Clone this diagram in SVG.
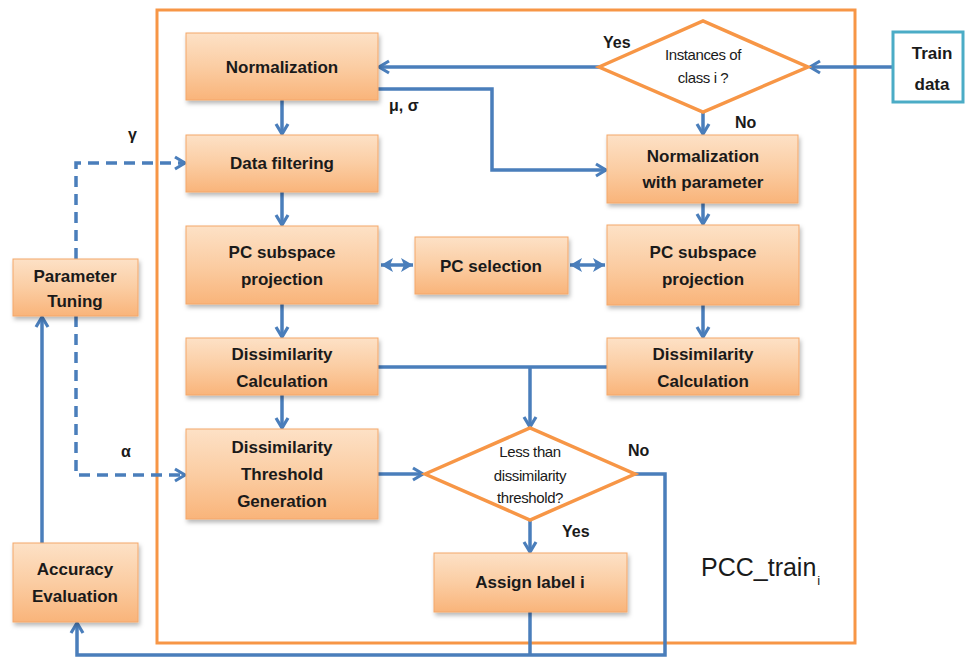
<svg xmlns="http://www.w3.org/2000/svg" width="965" height="657" viewBox="0 0 965 657">
  <defs>
    <linearGradient id="boxFill" x1="0" y1="0" x2="0" y2="1">
      <stop offset="0" stop-color="#FDE1C6"/>
      <stop offset="0.5" stop-color="#FBCDA3"/>
      <stop offset="1" stop-color="#F9B47A"/>
    </linearGradient>
    <filter id="shadow" x="-10%" y="-10%" width="125%" height="135%">
      <feDropShadow dx="1.5" dy="3" stdDeviation="2" flood-color="#000" flood-opacity="0.28"/>
    </filter>
    <marker id="open" markerUnits="userSpaceOnUse" markerWidth="16" markerHeight="16" viewBox="0 0 16 16" refX="13" refY="8" orient="auto">
      <path d="M3,2 L13,8 L3,14" fill="none" stroke="#4A7EBB" stroke-width="3.2" stroke-linejoin="miter"/>
    </marker>
    <marker id="solid" markerUnits="userSpaceOnUse" markerWidth="14" markerHeight="14" viewBox="0 0 14 14" refX="12" refY="7" orient="auto-start-reverse">
      <path d="M0,0 L12,7 L0,14 L3,7 Z" fill="#4A7EBB"/>
    </marker>
    <style>
      .box { fill: url(#boxFill); stroke: #F4A76A; stroke-width: 1; filter: url(#shadow); }
      .lbl { font-family: "Liberation Sans", Arial, sans-serif; font-weight: bold; font-size: 17px; fill: #1A1A1A; text-anchor: middle; }
      .dec { fill: #FFFFFF; stroke: #F79646; stroke-width: 3.5; stroke-linejoin: miter; }
      .dtx { font-family: "Liberation Sans", Arial, sans-serif; font-size: 15px; fill: #1A1A1A; text-anchor: middle; letter-spacing: -0.4px; }
      .tag { font-family: "Liberation Sans", Arial, sans-serif; font-weight: bold; font-size: 16px; fill: #1A1A1A; }
      .wire { fill: none; stroke: #4A7EBB; stroke-width: 3.5; }
      .dash { stroke-dasharray: 11 7; }
    </style>
  </defs>

  <rect width="965" height="657" fill="#FFFFFF"/>

  <!-- PCC_train_i frame -->
  <g id="frame">
    <rect x="157" y="10" width="698" height="633" fill="none" stroke="#F79646" stroke-width="3"/>
    <text x="701" y="576" font-family="Liberation Sans, Arial, sans-serif" font-size="25" fill="#1A1A1A">PCC_train<tspan dx="1" dy="9" font-size="13">i</tspan></text>
  </g>

  <!-- connectors -->
  <g id="connectors">
    <path class="wire" d="M893,67 L810,67" marker-end="url(#open)"/>
    <path class="wire" d="M599,67 L379,67" marker-end="url(#open)"/>
    <path class="wire" d="M703,112 L703,134" marker-end="url(#open)"/>
    <path class="wire" d="M282,100 L282,134" marker-end="url(#open)"/>
    <path class="wire" d="M378,89 L492,89 L492,170 L606,170" marker-end="url(#open)"/>
    <path class="wire" d="M282,192 L282,225" marker-end="url(#open)"/>
    <path class="wire" d="M703,203 L703,224" marker-end="url(#open)"/>
    <path class="wire" d="M381,265 L413,265" marker-start="url(#solid)" marker-end="url(#solid)"/>
    <path class="wire" d="M570,265 L605,265" marker-start="url(#solid)" marker-end="url(#solid)"/>
    <path class="wire" d="M282,304 L282,337" marker-end="url(#open)"/>
    <path class="wire" d="M703,305 L703,337" marker-end="url(#open)"/>
    <path class="wire" d="M378,367 L607,367"/>
    <path class="wire" d="M530,367 L530,427" marker-end="url(#open)"/>
    <path class="wire" d="M282,395 L282,428" marker-end="url(#open)"/>
    <path class="wire" d="M378,474 L423,474" marker-end="url(#open)"/>
    <path class="wire" d="M530,520 L530,552" marker-end="url(#open)"/>
    <path class="wire" d="M635,474 L665,474 L665,655 L77,655 L77,623" marker-end="url(#open)"/>
    <path class="wire" d="M530,612 L530,655"/>
    <path class="wire" d="M42,543 L42,317" marker-end="url(#open)"/>
    <path class="wire dash" d="M76,259 L76,163 L185,163" marker-end="url(#open)"/>
    <path class="wire dash" d="M76,316 L76,475 L185,475" marker-end="url(#open)"/>
    <text class="tag" x="603" y="48">Yes</text>
    <text class="tag" x="735" y="128">No</text>
    <text class="tag" x="389" y="111" font-size="15">μ, σ</text>
    <text class="tag" x="128" y="140">γ</text>
    <text class="tag" x="121" y="457">α</text>
    <text class="tag" x="562" y="537">Yes</text>
    <text class="tag" x="628" y="456">No</text>
  </g>

  <g id="train-data">
    <rect x="893" y="32" width="70" height="70" fill="#FFFFFF" stroke="#4BACC6" stroke-width="3"/>
    <text class="lbl" x="932" y="59" font-size="20">Train</text>
    <text class="lbl" x="932" y="90" font-size="20">data</text>
  </g>

  <g id="instances-decision">
    <polygon class="dec" points="599,67 703,21 808,67 703,112"/>
    <text class="dtx" x="703" y="60">Instances of</text>
    <text class="dtx" x="703" y="83">class i ?</text>
  </g>

  <g id="normalization">
    <rect class="box" x="186" y="33" width="192" height="67"/>
    <text class="lbl" x="282" y="73">Normalization</text>
  </g>

  <g id="data-filtering">
    <rect class="box" x="186" y="135" width="192" height="57"/>
    <text class="lbl" x="282" y="169">Data filtering</text>
  </g>

  <g id="pc-projection-left">
    <rect class="box" x="186" y="226" width="192" height="78"/>
    <text class="lbl" x="282" y="258">PC subspace</text>
    <text class="lbl" x="282" y="285">projection</text>
  </g>

  <g id="dissimilarity-left">
    <rect class="box" x="186" y="338" width="192" height="57"/>
    <text class="lbl" x="282" y="360">Dissimilarity</text>
    <text class="lbl" x="282" y="387">Calculation</text>
  </g>

  <g id="threshold-generation">
    <rect class="box" x="186" y="429" width="192" height="90"/>
    <text class="lbl" x="282" y="453">Dissimilarity</text>
    <text class="lbl" x="282" y="480">Threshold</text>
    <text class="lbl" x="282" y="507">Generation</text>
  </g>

  <g id="pc-selection">
    <rect class="box" x="415" y="237" width="153" height="57"/>
    <text class="lbl" x="491" y="272">PC selection</text>
  </g>

  <g id="normalization-parameter">
    <rect class="box" x="607" y="135" width="191" height="68"/>
    <text class="lbl" x="703" y="162">Normalization</text>
    <text class="lbl" x="703" y="188">with parameter</text>
  </g>

  <g id="pc-projection-right">
    <rect class="box" x="607" y="225" width="192" height="80"/>
    <text class="lbl" x="703" y="258">PC subspace</text>
    <text class="lbl" x="703" y="285">projection</text>
  </g>

  <g id="dissimilarity-right">
    <rect class="box" x="607" y="338" width="192" height="57"/>
    <text class="lbl" x="703" y="360">Dissimilarity</text>
    <text class="lbl" x="703" y="387">Calculation</text>
  </g>

  <g id="threshold-decision">
    <polygon class="dec" points="425,474 530,428 635,474 530,520"/>
    <text class="dtx" x="530" y="457">Less than</text>
    <text class="dtx" x="530" y="481">dissimilarity</text>
    <text class="dtx" x="530" y="503">threshold?</text>
  </g>

  <g id="assign-label">
    <rect class="box" x="434" y="553" width="193" height="59"/>
    <text class="lbl" x="530" y="588">Assign label i</text>
  </g>

  <g id="parameter-tuning">
    <rect class="box" x="13" y="259" width="125" height="57"/>
    <text class="lbl" x="75" y="282">Parameter</text>
    <text class="lbl" x="75" y="307">Tuning</text>
  </g>

  <g id="accuracy-evaluation">
    <rect class="box" x="13" y="543" width="125" height="79"/>
    <text class="lbl" x="75" y="575">Accuracy</text>
    <text class="lbl" x="75" y="602">Evaluation</text>
  </g>
</svg>
